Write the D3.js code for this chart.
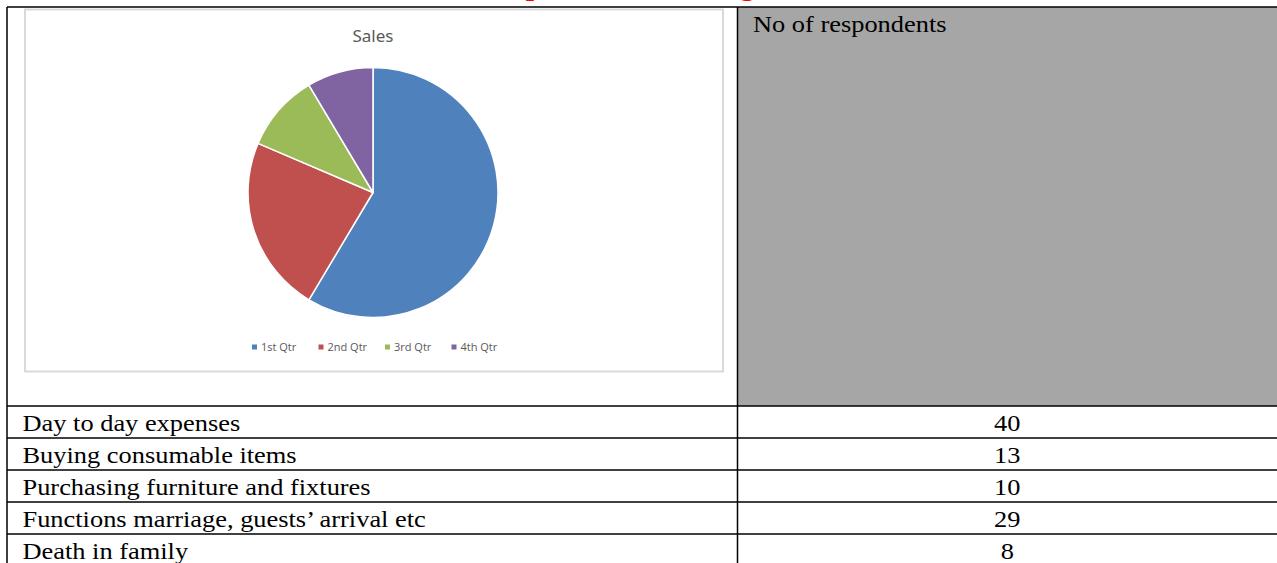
<!DOCTYPE html>
<html>
<head>
<meta charset="utf-8">
<script src="https://cdn.jsdelivr.net/npm/d3@7"></script>
<style>
  body { margin: 0; background: #fff; overflow: hidden; }
  svg { display: block; }
</style>
</head>
<body>
<div class="chart"></div>
<script>
const quarters = ["1st Qtr", "2nd Qtr", "3rd Qtr", "4th Qtr"];
const sales = [8.2, 3.2, 1.4, 1.2];
const purposes = [
  "Day to day expenses",
  "Buying consumable items",
  "Purchasing furniture and fixtures",
  "Functions marriage, guests\u2019 arrival etc",
  "Death in family"
];
const respondents = [40, 13, 10, 29, 8];
const headerLabel = "No of respondents";

const width = 1277, height = 563;
const colors = ["#4F81BD", "#C0504D", "#9BBB59", "#8064A2"];

var svg = d3.select('.chart')
            .append('svg')
            .attr("width", width)
            .attr("height", height);

// red heading, only the descenders show at the top edge
svg.append("text")
   .attr("transform", "translate(478,-5) scale(1.1,1)")
   .attr("font-family", "Liberation Serif, Times New Roman, serif")
   .attr("font-size", 27)
   .attr("font-weight", "bold")
   .attr("fill", "#FF0000")
   .text("Purpose of borrowing");

// table geometry
const tableLeft = 7, tableTop = 7, colSplit = 737.5, tableRight = 1290;
const rowY = d3.scaleBand()
               .domain(purposes)
               .range([406, 566]);

// gray header cell
svg.append("rect")
   .attr("x", colSplit)
   .attr("y", tableTop)
   .attr("width", tableRight - colSplit)
   .attr("height", rowY(purposes[0]) - tableTop)
   .attr("fill", "#A6A6A6");

// chart picture frame
svg.append("rect")
   .attr("x", 25)
   .attr("y", 9.5)
   .attr("width", 698)
   .attr("height", 362)
   .attr("fill", "#fff")
   .attr("stroke", "#D9D9D9")
   .attr("stroke-width", 2);

svg.append("text")
   .attr("x", 373)
   .attr("y", 42)
   .attr("text-anchor", "middle")
   .attr("font-family", "Noto Sans, Open Sans, sans-serif")
   .attr("font-size", 17)
   .attr("fill", "#595959")
   .text("Sales");

// pie
const pie = d3.pie().sort(null);
const arc = d3.arc().innerRadius(0).outerRadius(125);

svg.append("g")
   .attr("transform", "translate(373,192.5)")
   .selectAll("path")
   .data(pie(sales))
   .enter()
   .append("path")
   .attr("d", arc)
   .attr("fill", (d, i) => colors[i])
   .attr("stroke", "#fff")
   .attr("stroke-width", 1.5)
   .attr("stroke-linejoin", "round");

// legend
const legendX = d3.scaleBand()
                  .domain(quarters)
                  .range([252, 518]);

var legend = svg.append("g")
                .selectAll("g")
                .data(quarters)
                .enter()
                .append("g")
                .attr("transform", d => `translate(${legendX(d)},347)`);

legend.append("rect")
      .attr("x", 0)
      .attr("y", -2.5)
      .attr("width", 5)
      .attr("height", 5)
      .attr("fill", (d, i) => colors[i]);

legend.append("text")
      .attr("x", 9)
      .attr("y", 4)
      .attr("font-family", "Open Sans, Noto Sans, sans-serif")
      .attr("font-size", 11)
      .attr("fill", "#595959")
      .text(d => d);

// table lines
const lines = svg.append("g")
                 .attr("stroke", "#000")
                 .attr("stroke-width", 1.5);

lines.append("line")
     .attr("x1", tableLeft).attr("x2", tableRight)
     .attr("y1", tableTop).attr("y2", tableTop);

lines.append("line")
     .attr("x1", tableLeft).attr("x2", tableLeft)
     .attr("y1", tableTop).attr("y2", height);

lines.append("line")
     .attr("x1", colSplit).attr("x2", colSplit)
     .attr("y1", tableTop).attr("y2", height);

lines.selectAll(".row-line")
     .data(purposes)
     .enter()
     .append("line")
     .attr("class", "row-line")
     .attr("x1", tableLeft).attr("x2", tableRight)
     .attr("y1", d => rowY(d)).attr("y2", d => rowY(d));

// texts (source text is horizontally stretched)
const serif = "Liberation Serif, Times New Roman, serif";
const stretch = (x, y) => `translate(${x},${y}) scale(1.1,1)`;

svg.append("text")
   .attr("transform", stretch(753, 31.5))
   .attr("font-family", serif)
   .attr("font-size", 24)
   .attr("fill", "#000")
   .text(headerLabel);

var rows = svg.append("g")
              .selectAll("g")
              .data(purposes)
              .enter()
              .append("g");

rows.append("text")
    .attr("transform", d => stretch(22.5, rowY(d) + 24.5))
    .attr("font-family", serif)
    .attr("font-size", 24)
    .attr("fill", "#000")
    .text(d => d);

const numCenter = (colSplit + 1277) / 2;
rows.append("text")
    .attr("transform", d => stretch(numCenter, rowY(d) + 24.5))
    .attr("text-anchor", "middle")
    .attr("font-family", serif)
    .attr("font-size", 24)
    .attr("fill", "#000")
    .text((d, i) => respondents[i]);
</script>
</body>
</html>
